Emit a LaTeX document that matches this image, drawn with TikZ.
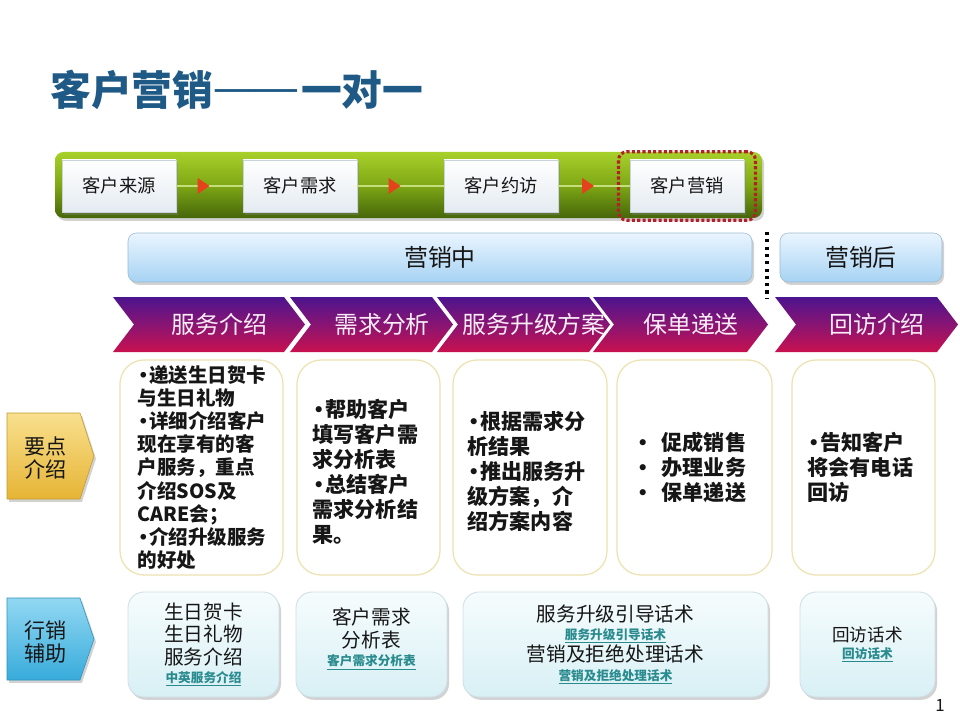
\documentclass[tikz,border=0pt]{standalone}
\usepackage{fontspec}
\setmainfont{Noto Sans CJK SC}
\newfontfamily\dotfont{DejaVu Sans}
\newfontfamily\dashfont{Liberation Serif}
\usetikzlibrary{arrows.meta,positioning,fit,calc,shadows,decorations.markings}
\definecolor{titleblue}{HTML}{1F5A86}
\definecolor{inkblack}{HTML}{161616}
\definecolor{greenlight}{HTML}{A8D02A}
\definecolor{greenmid}{HTML}{7FA815}
\definecolor{greendark}{HTML}{46660A}
\definecolor{stepgray}{HTML}{E4EBF1}
\definecolor{stepedge}{HTML}{C8D3DC}
\definecolor{stepgreen}{HTML}{C4DE7C}
\definecolor{stepred}{HTML}{E4421C}
\definecolor{dotred}{HTML}{B3202A}
\definecolor{barlight}{HTML}{EAF5FF}
\definecolor{barblue}{HTML}{A6D3F3}
\definecolor{chevnavy}{HTML}{24168E}
\definecolor{chevpurple}{HTML}{4C148E}
\definecolor{chevplum}{HTML}{8E1470}
\definecolor{chevrose}{HTML}{D0104A}
\definecolor{chevred}{HTML}{EC2626}
\definecolor{chevorange}{HTML}{F5901F}
\definecolor{chevink}{HTML}{FBECF6}
\definecolor{keylight}{HTML}{F9E08E}
\definecolor{keydark}{HTML}{E6B435}
\definecolor{aidlight}{HTML}{92D8F3}
\definecolor{aiddark}{HTML}{38ABDB}
\definecolor{noteedge}{HTML}{EDE3B2}
\definecolor{aidboxlight}{HTML}{F6FCFD}
\definecolor{aidboxdark}{HTML}{D8F0F5}
\definecolor{aidedge}{HTML}{CFDFE5}
\definecolor{linkteal}{HTML}{2A8B8E}
\pgfdeclareverticalshading{chevshade}{100bp}{color(0bp)=(chevorange); color(6bp)=(chevred); color(22bp)=(chevrose); color(48bp)=(chevplum); color(75bp)=(chevpurple); color(100bp)=(chevnavy)}
\newcommand{\aidlink}[1]{{\bfseries\fontsize{9}{10}\selectfont\color{linkteal}\underline{#1}}}
\newcommand{\bul}{{\dotfont\mdseries •}}
\tikzset{
  softshadow/.style={drop shadow={shadow xshift=0.05cm,shadow yshift=-0.07cm,opacity=0.35}},
  title/.style={font=\bfseries\fontsize{29}{32}\selectfont,text=titleblue,anchor=west,inner sep=0pt},
  greenbar/.style={rounded corners=6pt,top color=greenlight,bottom color=greendark,middle color=greenmid,softshadow},
  stepbox/.style={minimum width=2.85cm,minimum height=1.3cm,top color=white,bottom color=stepgray,draw=stepedge,line width=0.4pt,font=\fontsize{13}{15}\selectfont,text=inkblack,softshadow},
  stepline/.style={draw=stepgreen,line width=0.8pt,decoration={markings,mark=at position 0.5 with {\arrow{Triangle[length=3mm,width=4mm,color=stepred]}}},postaction={decorate}},
  focusbox/.style={draw=dotred,line width=2.2pt,dash pattern=on 2.2pt off 1.6pt,rounded corners=6pt,inner xsep=0.28cm,inner ysep=0.2cm},
  phasebar/.style={rounded corners=6pt,minimum height=1.225cm,top color=barlight,bottom color=barblue,draw=barblue!70!gray,line width=0.4pt,font=\fontsize{17}{20}\selectfont,text=inkblack,softshadow},
  sepline/.style={draw=black,line width=2.2pt,dash pattern=on 2.2pt off 3pt},
  chevtext/.style={font=\fontsize{17}{20}\selectfont,text=chevink},
  keytag/.style={top color=keylight,bottom color=keydark,draw=keydark!85!black,line width=0.4pt,softshadow},
  aidtag/.style={top color=aidlight,bottom color=aiddark,draw=aiddark!85!black,line width=0.4pt,softshadow},
  tagtext/.style={font=\fontsize{15}{17}\selectfont,text=inkblack,align=center},
  notebox/.style={rounded corners=0.6cm,draw=noteedge,line width=0.9pt,fill=white,minimum height=5.375cm},
  notetext/.style={font=\bfseries\fontsize{15}{17.8}\selectfont,text=inkblack,align=left,anchor=west,inner sep=0pt},
  notesmall/.style={notetext,font=\bfseries\fontsize{13.9}{16.4}\selectfont},
  aidbox/.style={rounded corners=0.4cm,minimum height=2.625cm,top color=aidboxlight,bottom color=aidboxdark,draw=aidedge,line width=0.6pt,font=\fontsize{14}{16}\selectfont,text=inkblack,align=center,softshadow},
  pagenum/.style={font=\fontsize{12}{14}\selectfont,text=inkblack}
}

\begin{document}
\begin{tikzpicture}[x=1cm,y=1cm]
\path[use as bounding box,fill=white] (0,0) rectangle (24,18);
\node[title] (ttl) at (1.25,15.75) {客户营销\raisebox{0.12em}{\dashfont\bfseries\hspace{0.05em}——\hspace{0.1em}}一对一};
% process bar
\node[greenbar,minimum width=17.675cm,minimum height=1.65cm] (bar) at (10.2125,13.375) {};
\foreach \x/\name/\txt in {2.975/s1/客户来源,7.5/s2/客户需求,12.525/s3/客户约访,17.175/s4/客户营销}
  \node[stepbox] (\name) at (\x,13.35) {\txt};
\foreach \a/\b in {s1/s2,s2/s3,s3/s4}
  \draw[stepline] (\a) -- (\b);
\node[focusbox,fit=(s4)] (now) {};
% phases
\node[phasebar,minimum width=15.6cm] (mid) at (11.0,11.5625) {营销中};
\node[phasebar,minimum width=4.05cm] (post) at (21.525,11.5625) {营销后};
\draw[sepline] (19.175,12.2) -- ++(0,-1.65);
\foreach \xa/\xb/\name/\ttl in {2.825/7.625/c1/服务介绍,7.25/11.325/c2/需求分析,10.925/15.25/c3/服务升级方案,14.825/19.2/c4/保单递送,19.375/23.95/c5/回访介绍}
{
\shade[shading=chevshade] (\xa,10.575) -- (\xb-0.525,10.575) -- (\xb,9.8875) -- (\xb-0.525,9.2) -- (\xa,9.2) -- (\xa+0.525,9.8875) -- cycle;
\node[chevtext] (\name) at ({(\xa+0.525+\xb)/2},9.8875) {\ttl};
}
% row labels
\draw[keytag] (0.175,7.675) -- (2.0,7.675) -- (2.35,6.6) -- (2.0,5.525) -- (0.175,5.525) -- cycle;
\node[tagtext] (key) at (1.15,6.55) {要点\\介绍};
\draw[aidtag] (0.175,3.05) -- (2.0,3.05) -- (2.35,2.025) -- (2.0,1.0) -- (0.175,1.0) -- cycle;
\node[tagtext] (aid) at (1.15,1.95) {行销\\辅助};
% key points
\foreach \x/\w/\name in {5.0375/4.075/n1,9.2125/3.575/n2,13.25/3.85/n3,17.3625/3.875/n4,21.5875/3.575/n5}
  \node[notebox,minimum width=\w cm] (\name) at (\x,6.3125) {};
\node[notesmall] (t1) at ([xshift=0.45cm]n1.west) {\bul 递送生日贺卡\\与生日礼物\\\bul 详细介绍客户\\现在享有的客\\户服务，重点\\介绍SOS及\\CARE会；\\\bul 介绍升级服务\\的好处};
\node[notetext] (t2) at ([xshift=0.4cm,yshift=-0.1cm]n2.west) {\bul 帮助客户\\填写客户需\\求分析表\\\bul 总结客户\\需求分析结\\果。};
\node[notetext] (t3) at ([xshift=0.375cm,yshift=-0.1cm]n3.west) {\bul 根据需求分\\析结果\\\bul 推出服务升\\级方案，介\\绍方案内容};
\node[notetext] (t4) at ([xshift=0.5cm]n4.west) {\bul\hspace{0.6em}促成销售\\\bul\hspace{0.6em}办理业务\\\bul\hspace{0.6em}保单递送};
\node[notetext] (t5) at ([xshift=0.4cm]n5.west) {\bul 告知客户\\将会有电话\\回访};
% sales aids
\node[aidbox,minimum width=3.775cm] (a1) at (5.0875,1.8875) {生日贺卡\\生日礼物\\服务介绍\\[-3pt]\aidlink{中英服务介绍}};
\node[aidbox,minimum width=3.775cm] (a2) at (9.2875,1.8875) {客户需求\\分析表\\[-3pt]\aidlink{客户需求分析表}\\[-5pt]};
\node[aidbox,minimum width=7.625cm] (a3) at (15.3875,1.8875) {服务升级引导话术\\[-3pt]\aidlink{服务升级引导话术}\\营销及拒绝处理话术\\[-3pt]\aidlink{营销及拒绝处理话术}};
\node[aidbox,minimum width=3.375cm,font=\fontsize{12.5}{15}\selectfont] (a4) at (21.6875,1.8875) {回访话术\\[-3pt]\aidlink{回访话术}};
\node[pagenum] (pg) at (23.5,0.375) {1};
\end{tikzpicture}
\end{document}
